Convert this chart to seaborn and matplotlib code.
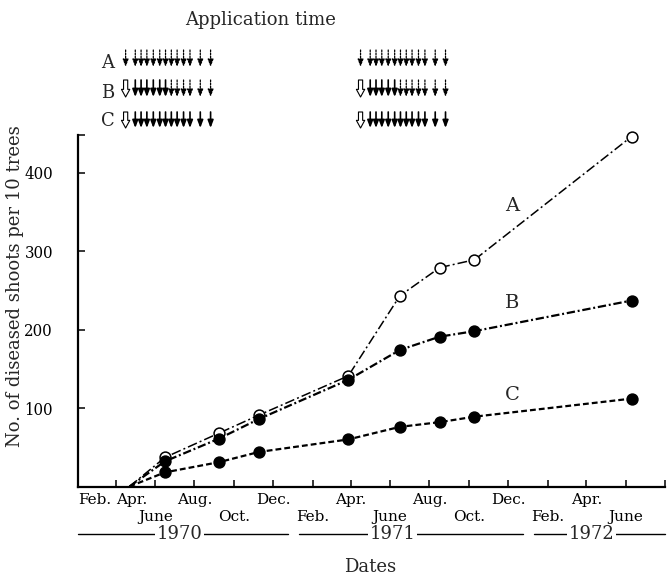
import matplotlib
matplotlib.use("Agg")
import matplotlib.pyplot as plt
import matplotlib.dates as mdates
import matplotlib.transforms as mtransforms
from matplotlib.ticker import FixedLocator
import pandas as pd
import seaborn as sns

# ---- data ---------------------------------------------------------------
# survey dates; the first entry is the common starting point (no marker)
survey_dates = ["1970-04-22", "1970-06-16", "1970-09-08", "1970-11-09",
                "1971-03-28", "1971-06-16", "1971-08-17", "1971-10-10",
                "1972-06-10"]
shoots_A = [0, 37, 68, 91, 141, 243, 279, 289, 446]
shoots_B = [0, 32, 61, 86, 136, 174, 191, 198, 237]
shoots_C = [0, 18, 31, 44, 60, 76, 82, 89, 112]
programs = ["A", "B", "C"]

# month ticks every two months; labels alternate between two rows
tick_dates = pd.date_range("1970-02-01", "1972-08-01", freq="2MS")
tick_labels = ["Feb.", "Apr.", "June", "Aug.", "Oct.", "Dec.",
               "Feb.", "Apr.", "June", "Aug.", "Oct.", "Dec.",
               "Feb.", "Apr.", "June", ""]
tick_rows = [0, 0, 1, 0, 1, 0, 1, 0, 1, 0, 1, 0, 1, 0, 1, 0]
y_ticks = [100, 200, 300, 400]

years = ["1970", "1971", "1972"]
year_spans = [("1970-02-01", "1970-12-24"), ("1971-01-10", "1971-12-24"),
              ("1972-01-10", "1972-08-01")]
year_label_dates = ["1970-07-09", "1971-06-05", "1972-04-09"]

# spray schedule (month-day), same in both seasons
spray_days = ["04-16", "05-01", "05-10", "05-19", "05-29", "06-08", "06-17",
              "06-26", "07-05", "07-15", "07-25", "08-10", "08-26"]
spray_years = [1970, 1971]
# h = dormant spray (hollow arrow), s = solid arrow, d = dotted arrow
spray_kinds = {
    ("A", 1970): "d" * 13, ("A", 1971): "d" * 13,
    ("B", 1970): "h" + "s" * 6 + "d" * 6, ("B", 1971): "h" + "s" * 5 + "d" * 7,
    ("C", 1970): "h" + "s" * 12, ("C", 1971): "h" + "s" * 12,
}

df = pd.DataFrame({
    "date": pd.to_datetime(survey_dates * 3),
    "shoots": shoots_A + shoots_B + shoots_C,
    "program": [p for p in programs for _ in survey_dates],
})

# ---- style ----------------------------------------------------------------
sns.set_style("ticks")
plt.rcParams["font.family"] = ["DejaVu Serif"]
plt.rcParams["lines.scale_dashes"] = False

W, H = 668, 580
fig = plt.figure(figsize=(W / 100, H / 100), dpi=100)
x0, x1, y0, y1 = 78, 665, 486.5, 135
ax = fig.add_axes([x0 / W, 1 - y0 / H, (x1 - x0) / W, (y0 - y1) / H])

line_styles = {
    "A": dict(linestyle=(0, (7, 2.2, 1.4, 2.2)), lw=1.1, mfc="white"),
    "B": dict(linestyle=(0, (6, 2, 1.4, 2)), lw=1.6, mfc="black"),
    "C": dict(linestyle=(0, (4.2, 2.2)), lw=1.6, mfc="black"),
}
n = len(survey_dates)
for p in programs:
    st = line_styles[p]
    sns.lineplot(data=df[df["program"] == p], x="date", y="shoots", ax=ax,
                 color="black", linestyle=st["linestyle"], lw=st["lw"],
                 marker="o", ms=7.8, markerfacecolor=st["mfc"],
                 markeredgecolor="black", markeredgewidth=1.1,
                 markevery=list(range(1, n)), errorbar=None, clip_on=False,
                 zorder=3)

ymax = 448
ax.set_ylim(0, ymax)
ax.set_xlim(mdates.date2num(pd.Timestamp("1970-02-01")),
            mdates.date2num(pd.Timestamp("1972-08-01")))

ax.set_xticks(mdates.date2num(tick_dates))
ax.set_xticklabels(tick_labels, fontsize=11)
ax.set_yticks(y_ticks)
ax.set_yticklabels([str(v) for v in y_ticks], fontsize=12,
                   fontstretch="condensed")
ax.yaxis.set_minor_locator(FixedLocator([ymax]))
ax.tick_params(axis="both", which="both", direction="in", length=5,
               width=1.1, color="black", labelcolor="black")
ax.tick_params(axis="x", pad=5)
ax.tick_params(axis="y", pad=18)
for tick, row in zip(ax.xaxis.get_major_ticks(), tick_rows):
    tick.set_pad(5 + 12 * row)
labels = ax.get_xticklabels()
labels[0].set_ha("left")
labels[1].set_ha("left")

for s in ["top", "right"]:
    ax.spines[s].set_visible(False)
for s in ["left", "bottom"]:
    ax.spines[s].set_linewidth(1.6)
    ax.spines[s].set_color("black")

ax.set_ylabel("No. of diseased shoots per 10 trees", fontsize=13)
ax.yaxis.label.set_va("center")
ax.yaxis.set_label_coords((15 - x0) / (x1 - x0), (y0 - 286) / (y0 - y1))
ax.set_xlabel("Dates", fontsize=13)
ax.xaxis.label.set_va("center")
ax.xaxis.set_label_coords((370 - x0) / (x1 - x0), (y0 - 567) / (y0 - y1))

# series names next to the curves
label_date = mdates.date2num(pd.Timestamp("1971-12-07"))
for p, v in zip(programs, [358, 234, 117]):
    ax.text(label_date, v, p, fontsize=14, ha="center", va="center")

# year bands under the month labels
band = mtransforms.blended_transform_factory(ax.transData, fig.transFigure)
yr_y = 1 - 534 / H
for yr, (a, b), c in zip(years, year_spans, year_label_dates):
    ax.plot(mdates.date2num(pd.to_datetime([a, b])), [yr_y, yr_y],
            color="black", lw=1.0, transform=band, clip_on=False)
    ax.annotate(yr, xy=(mdates.date2num(pd.Timestamp(c)), yr_y),
                xycoords=("data", "figure fraction"), ha="center", va="center",
                fontsize=13, annotation_clip=False,
                bbox=dict(fc="white", ec="none", pad=1.0))

# application time arrows
fig.text(261 / W, 1 - 20 / H, "Application time", fontsize=13,
         ha="center", va="center")
row_span = {"A": (50, 67), "B": (80, 97), "C": (112, 128)}
row_letter_y = {"A": 63.5, "B": 93.5, "C": 121.5}
for p in programs:
    fig.text(108 / W, 1 - row_letter_y[p] / H, p, fontsize=13,
             ha="center", va="center")
    top, bot = row_span[p]
    for yr in spray_years:
        for md, kind in zip(spray_days, spray_kinds[(p, yr)]):
            xd = mdates.date2num(pd.Timestamp(f"{yr}-{md}"))
            if kind == "h":
                props = dict(arrowstyle="simple,head_length=0.55,head_width=0.6,tail_width=0.3",
                             fc="white", ec="black", lw=0.8)
            elif kind == "s":
                props = dict(arrowstyle="-|>,head_length=0.45,head_width=0.17",
                             color="black", lw=1.2)
            else:
                props = dict(arrowstyle="-|>,head_length=0.45,head_width=0.17",
                             color="black", lw=0.9, linestyle=(0, (1.2, 1.0)))
            props.update(shrinkA=0, shrinkB=0, mutation_scale=10)
            ax.annotate("", xy=(xd, 1 - bot / H), xytext=(xd, 1 - top / H),
                        xycoords=("data", "figure fraction"),
                        textcoords=("data", "figure fraction"),
                        arrowprops=props, annotation_clip=False)

fig.savefig("out.png", dpi=100)
